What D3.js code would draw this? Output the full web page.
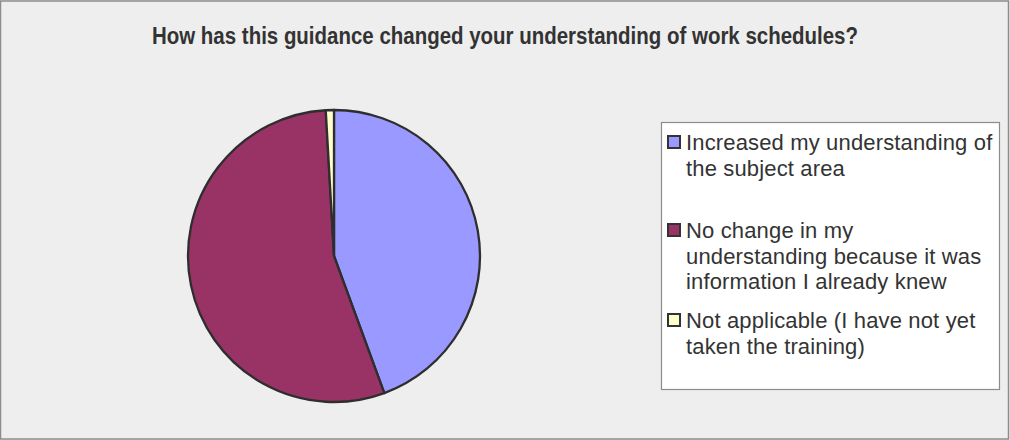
<!DOCTYPE html>
<html>
<head>
<meta charset="utf-8">
<script src="https://cdn.jsdelivr.net/npm/d3@7"></script>
<style>
  html, body { margin: 0; padding: 0; background: #eeeeee; }
  svg { display: block; }
</style>
</head>
<body>
<svg id="chart" width="1010" height="440"></svg>
<script>
// Survey responses (percent of respondents)
const categories = [
  "Increased my understanding of the subject area",
  "No change in my understanding because it was information I already knew",
  "Not applicable (I have not yet taken the training)"
];
const values = [44.4, 54.7, 0.9];
const colors = ["#9999ff", "#993366", "#ffffcc"];
// Legend entries broken into their display lines
const legendLines = [
  ["Increased my understanding of", "the subject area"],
  ["No change in my", "understanding because it was", "information I already knew"],
  ["Not applicable (I have not yet", "taken the training)"]
];
const title = "How has this guidance changed your understanding of work schedules?";

const svg = d3.select("#chart");
const W = 1010, H = 440;

// chart area frame
svg.append("rect")
  .attr("x", 0.5).attr("y", 1).attr("width", W - 2).attr("height", H - 2)
  .attr("fill", "#eeeeee").attr("stroke", "#8c8c8c").attr("stroke-width", 1.5);

svg.append("text")
  .attr("x", 152).attr("y", 44)
  .attr("font-family", "Liberation Sans, Arial, sans-serif")
  .attr("font-size", 24.5)
  .attr("font-weight", "bold")
  .attr("fill", "#333333")
  .attr("textLength", 706)
  .attr("lengthAdjust", "spacingAndGlyphs")
  .text(title);

// pie
const cx = 334, cy = 256, r = 146;
const pie = d3.pie().sort(null).value(d => d)
  .startAngle(0).endAngle(2 * Math.PI);
const arc = d3.arc().innerRadius(0).outerRadius(r);

const g = svg.append("g").attr("transform", `translate(${cx},${cy})`);
g.selectAll("path")
  .data(pie(values))
  .join("path")
  .attr("d", arc)
  .attr("fill", (d, i) => colors[i])
  .attr("stroke", "#2e2e2e")
  .attr("stroke-width", 2.3)
  .attr("stroke-linejoin", "round");

// legend
const lx = 661, ly = 122, lw = 338, lh = 267;
svg.append("rect")
  .attr("x", lx + 0.5).attr("y", ly + 0.5).attr("width", lw).attr("height", lh)
  .attr("fill", "#ffffff").attr("stroke", "#8c8c8c").attr("stroke-width", 1.2);

const itemTops = [150, 238, 328]; // first-line baselines
const lineH = 25.5;
const lg = svg.append("g");
categories.forEach((c, i) => {
  const item = lg.append("g");
  item.append("rect")
    .attr("x", 668).attr("y", itemTops[i] - 14).attr("width", 12).attr("height", 12)
    .attr("fill", colors[i]).attr("stroke", "#333333").attr("stroke-width", 2);
  const t = item.append("text")
    .attr("font-family", "Liberation Sans, Arial, sans-serif")
    .attr("font-size", 22)
    .attr("letter-spacing", 0.15)
    .attr("fill", "#333333");
  legendLines[i].forEach((ln, j) => {
    t.append("tspan").attr("x", 686).attr("y", itemTops[i] + j * lineH).text(ln);
  });
});
</script>
</body>
</html>
